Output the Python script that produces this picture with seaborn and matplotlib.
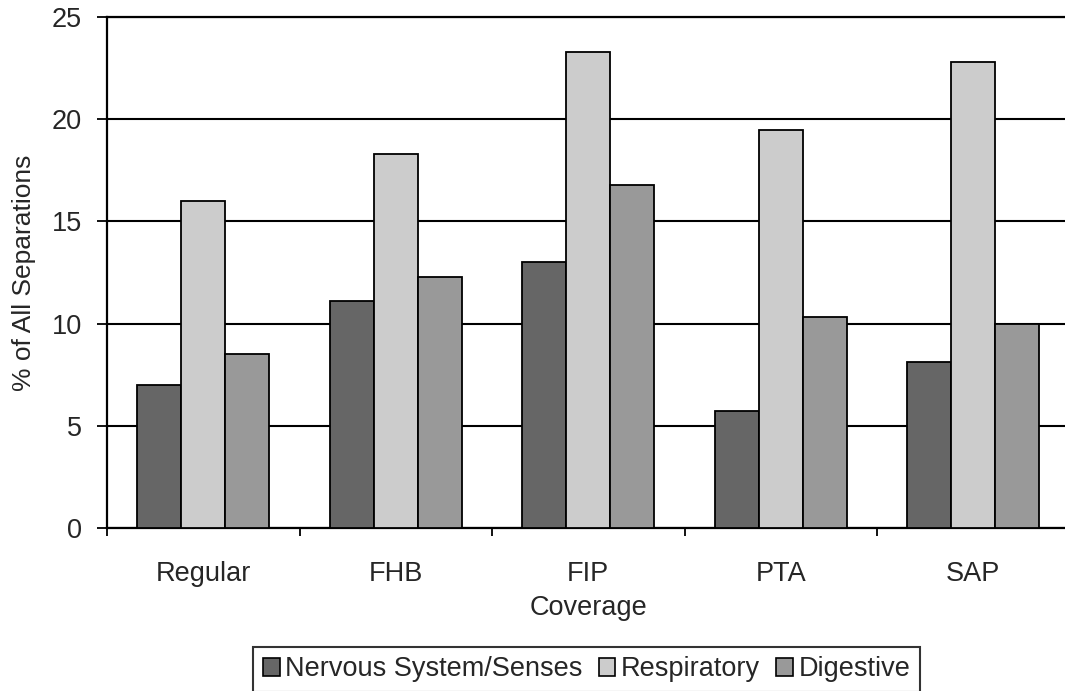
import matplotlib
matplotlib.use("Agg")
import matplotlib.pyplot as plt
from matplotlib.patches import Patch
from matplotlib.ticker import FixedLocator
import seaborn as sns
import pandas as pd

# Share of all hospital separations by coverage type and diagnosis group
coverage = ["Regular", "FHB", "FIP", "PTA", "SAP"]
nervous = [7.0, 11.1, 13.0, 5.7, 8.1]
respiratory = [16.0, 18.3, 23.3, 19.5, 22.8]
digestive = [8.5, 12.3, 16.8, 10.3, 10.0]
groups = ["Nervous System/Senses", "Respiratory", "Digestive"]
colors = ["#666666", "#cccccc", "#999999"]

df = pd.DataFrame({
    "Coverage": coverage * 3,
    "Group": [g for g in groups for _ in coverage],
    "Value": nervous + respiratory + digestive,
})

sns.set_style("white")
plt.rcParams["font.family"] = ["Liberation Sans", "DejaVu Sans"]

fig = plt.figure(figsize=(10.65, 6.91), dpi=100)
ax = fig.add_axes([107 / 1065, 163.3 / 691, 962.5 / 1065, 510.4 / 691])

sns.barplot(data=df, x="Coverage", y="Value", hue="Group", order=coverage,
            hue_order=groups, palette=colors, width=0.686, saturation=1,
            edgecolor="black", linewidth=1.3, ax=ax, legend=False, zorder=3)

ax.set_xlim(-0.5, len(coverage) - 0.5)
ax.set_ylim(0, 25)
ax.set_yticks([0, 5, 10, 15, 20, 25])
ax.yaxis.grid(True, color="black", linewidth=1.5, zorder=1)
ax.set_axisbelow(True)

for side in ["right", "bottom", "left", "top"]:
    ax.spines[side].set_color("black")
    ax.spines[side].set_linewidth(1.6)
ax.spines["right"].set_visible(False)

ax.tick_params(axis="y", which="major", direction="out", length=7, width=1.3,
               color="black", labelsize=19.5, pad=11, left=True)
ax.tick_params(axis="x", which="major", length=0, labelsize=19.5, pad=24)
ax.xaxis.set_minor_locator(FixedLocator([i - 0.5 for i in range(len(coverage) + 1)]))
ax.tick_params(axis="x", which="minor", direction="out", length=6, width=1.3,
               color="black", bottom=True)

ax.set_xlabel("Coverage", fontsize=19.5, labelpad=6)
ax.set_ylabel("% of All Separations", fontsize=19, labelpad=11)

handles = [Patch(facecolor=c, edgecolor="black", linewidth=1.2) for c in colors]
leg = fig.legend(handles, groups, loc="upper center", ncol=3,
                 bbox_to_anchor=(586.5 / 1065, 1 - 647 / 691),
                 fontsize=19.5, frameon=True, fancybox=False, shadow=False,
                 edgecolor="black", handlelength=0.62, handleheight=0.62,
                 handletextpad=0.2, columnspacing=0.6, borderpad=0.35,
                 borderaxespad=0)
leg.get_frame().set_linewidth(1.5)

fig.savefig("out.png", dpi=100)
